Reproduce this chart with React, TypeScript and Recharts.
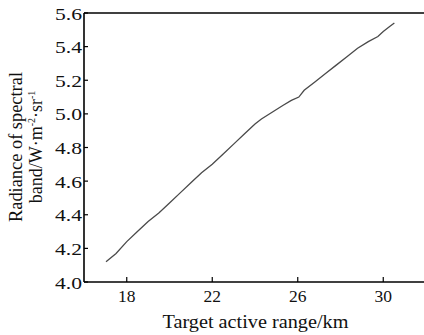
import React from "react";
import { LineChart, Line, XAxis, YAxis, ReferenceLine } from "recharts";

const rangeKm = [17.03, 17.5, 18.0, 18.5, 19.0, 19.5, 20.0, 20.5, 21.0, 21.5, 22.0, 22.5, 23.0, 23.5, 24.0, 24.3, 24.8, 25.3, 25.7, 26.05, 26.3, 26.8, 27.3, 27.8, 28.3, 28.8, 29.3, 29.75, 30.0, 30.3, 30.52];
const radiance = [4.12, 4.17, 4.24, 4.3, 4.36, 4.41, 4.47, 4.53, 4.59, 4.65, 4.7, 4.76, 4.82, 4.88, 4.94, 4.97, 5.01, 5.05, 5.08, 5.1, 5.14, 5.19, 5.24, 5.29, 5.34, 5.39, 5.43, 5.46, 5.49, 5.52, 5.54];
const xTicks = [18, 22, 26, 30];
const yTicks = [4.0, 4.2, 4.4, 4.6, 4.8, 5.0, 5.2, 5.4, 5.6];

const data = rangeKm.map((x, i) => ({ x, y: radiance[i] }));

const FONT = '"Liberation Serif", "Times New Roman", serif';

const XTick = (props: any) => {
  const { x, y, payload } = props;
  const axisY = y - 2;
  return (
    <g>
      <line x1={x} y1={axisY} x2={x} y2={axisY - 5} stroke="#000" strokeWidth={1.2} />
      <text x={x} y={axisY + 19.5} textAnchor="middle" fontFamily={FONT} fontSize={17.5} fill="#111">
        {payload.value}
      </text>
    </g>
  );
};

const YTick = (props: any) => {
  const { x, y, payload } = props;
  const axisX = x + 3;
  return (
    <g>
      <line x1={axisX} y1={y} x2={axisX + 4} y2={y} stroke="#000" strokeWidth={1.2} />
      <text x={axisX - 2} y={y + 6.5} textAnchor="end" fontFamily={FONT} fontSize={17.5} fill="#111" textLength={27} lengthAdjust="spacingAndGlyphs">
        {Number(payload.value).toFixed(1)}
      </text>
    </g>
  );
};

const XTitle = () => (
  <text x={255.5} y={328} textAnchor="middle" fontFamily={FONT} fontSize={19} fill="#111" textLength={186} lengthAdjust="spacingAndGlyphs">
    Target active range/km
  </text>
);

const YTitle = () => (
  <g fontFamily={FONT} fill="#111">
    <text transform="translate(22,147) rotate(-90)" textAnchor="middle" fontSize={18} textLength={150} lengthAdjust="spacingAndGlyphs">
      Radiance of spectral
    </text>
    <text transform="translate(42,147) rotate(-90)" textAnchor="middle" fontSize={18}>
      band/W·m
      <tspan fontSize={10} dy={-7}>-2</tspan>
      <tspan dy={7}>·sr</tspan>
      <tspan fontSize={10} dy={-7}>-1</tspan>
    </text>
  </g>
);

export default function App() {
  return (
    <div style={{ position: "absolute", left: 0, top: 0, width: 424, height: 335, overflow: "hidden", background: "#fff" }}>
      <LineChart width={427} height={335} data={data} margin={{ top: 13, right: 1, bottom: 0, left: 0 }}>
        <XAxis
          dataKey="x"
          type="number"
          domain={[16, 32]}
          ticks={xTicks}
          allowDataOverflow
          height={53}
          axisLine={{ stroke: "#000", strokeWidth: 1.6 }}
          tickLine={false}
          tickSize={0}
          tickMargin={2}
          tick={<XTick />}
          label={{ content: () => <XTitle /> }}
        />
        <YAxis
          type="number"
          domain={[4.0, 5.6]}
          ticks={yTicks}
          allowDataOverflow
          width={84}
          axisLine={{ stroke: "#000", strokeWidth: 1.6 }}
          tickLine={false}
          tickSize={0}
          tickMargin={3}
          tick={<YTick />}
          label={{ content: () => <YTitle /> }}
        />
        <ReferenceLine y={5.6} stroke="#000" strokeWidth={1.6} />
        <Line
          type="linear"
          dataKey="y"
          stroke="#4a4a4a"
          strokeWidth={1.3}
          dot={false}
          isAnimationActive={false}
        />
      </LineChart>
    </div>
  );
}
